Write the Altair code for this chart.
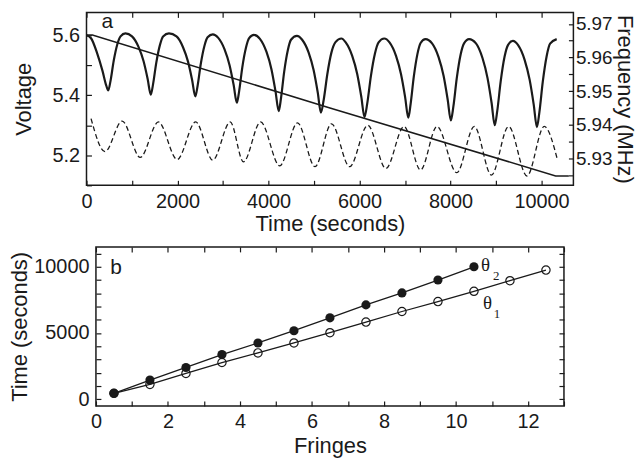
import json
import altair as alt
import pandas as pd

FONT = "Liberation Sans"
SERIF = "Liberation Serif"
INK = "#1a1a1a"

# ---------------- panel a data ----------------
solid_time = [0, 100, 240, 350, 435, 478, 528, 598, 678, 748, 855, 1000, 1143, 1253, 1343, 1413,
              1463, 1533, 1613, 1683, 1812, 1978, 2121, 2231, 2321, 2391,
              2441, 2511, 2591, 2661, 2776, 2891, 3034, 3144, 3234, 3304,
              3354, 3424, 3504, 3574, 3680, 3811, 3954, 4064, 4154, 4224,
              4274, 4344, 4424, 4494, 4624, 4739, 4882, 4992, 5082, 5152,
              5212, 5292, 5382, 5472, 5602, 5696, 5839, 5949, 6039, 6109,
              6169, 6249, 6339, 6419, 6543, 6659, 6802, 6912, 7002, 7072,
              7122, 7192, 7272, 7342, 7450, 7594, 7737, 7847, 7937, 8007,
              8062, 8137, 8222, 8297, 8407, 8559, 8702, 8812, 8902, 8972,
              9027, 9102, 9187, 9262, 9370, 9485, 9628, 9738, 9828, 9898,
              9953, 10028, 10113, 10188, 10333]
solid_volt = [5.600, 5.590, 5.537, 5.482, 5.432, 5.416, 5.448, 5.515, 5.570, 5.596, 5.606, 5.596, 5.561, 5.514, 5.455, 5.402,
              5.437, 5.508, 5.567, 5.596, 5.606, 5.596, 5.560, 5.512, 5.451, 5.396,
              5.431, 5.504, 5.564, 5.593, 5.603, 5.592, 5.553, 5.500, 5.434, 5.375,
              5.413, 5.493, 5.558, 5.590, 5.601, 5.588, 5.545, 5.487, 5.413, 5.347,
              5.390, 5.478, 5.550, 5.585, 5.598, 5.585, 5.542, 5.483, 5.409, 5.342,
              5.384, 5.470, 5.542, 5.577, 5.589, 5.576, 5.531, 5.471, 5.395, 5.327,
              5.372, 5.463, 5.539, 5.576, 5.589, 5.576, 5.531, 5.470, 5.394, 5.325,
              5.370, 5.461, 5.537, 5.574, 5.587, 5.573, 5.527, 5.465, 5.386, 5.316,
              5.362, 5.457, 5.536, 5.573, 5.587, 5.573, 5.524, 5.458, 5.375, 5.300,
              5.348, 5.446, 5.528, 5.567, 5.581, 5.567, 5.518, 5.452, 5.369, 5.294,
              5.344, 5.446, 5.531, 5.572, 5.587]

dashed_time = [100, 406, 783, 1181, 1580, 1993, 2399, 2775, 3159, 3449, 3826, 4246, 4637, 5022,
               5384, 5783, 6181, 6580, 6978, 7341, 7702, 8137, 8522, 8898, 9276, 9680, 10059, 10348]
dashed_volt = [5.322, 5.212, 5.314, 5.193, 5.311, 5.186, 5.311, 5.184, 5.311, 5.178, 5.311, 5.165, 5.308, 5.162,
               5.305, 5.162, 5.300, 5.156, 5.296, 5.151, 5.296, 5.142, 5.296, 5.134, 5.296, 5.131, 5.296, 5.186]

freq_time = [0, 130, 5350, 10310, 10600]
freq_mhz = [5.9667, 5.9667, 5.9450, 5.9248, 5.9248]

time_ticks = [0, 1000, 2000, 3000, 4000, 5000, 6000, 7000, 8000, 9000, 10000]
time_labels = [0, 2000, 4000, 6000, 8000, 10000]
volt_ticks = [5.1, 5.2, 5.3, 5.4, 5.5, 5.6]
volt_labels = [5.2, 5.4, 5.6]
freq_ticks = [5.925, 5.93, 5.935, 5.94, 5.945, 5.95, 5.955, 5.96, 5.965, 5.97]
freq_labels = [5.93, 5.94, 5.95, 5.96, 5.97]

# ---------------- panel b data ----------------
fringe_1 = [0.5, 1.5, 2.5, 3.5, 4.5, 5.5, 6.5, 7.5, 8.5, 9.5, 10.5, 11.5, 12.5]
time_1 = [450, 1125, 1950, 2775, 3500, 4250, 5025, 5825, 6625, 7375, 8150, 8950, 9750]
fringe_2 = [0.5, 1.5, 2.5, 3.5, 4.5, 5.5, 6.5, 7.5, 8.5, 9.5, 10.5]
time_2 = [450, 1450, 2400, 3375, 4250, 5175, 6150, 7125, 8025, 9000, 10000]

fringe_ticks = [0, 1, 2, 3, 4, 5, 6, 7, 8, 9, 10, 11, 12, 13]
fringe_labels = [0, 2, 4, 6, 8, 10, 12]
tsec_ticks = [0, 1000, 2000, 3000, 4000, 5000, 6000, 7000, 8000, 9000, 10000, 11000]
tsec_labels = [0, 5000, 10000]

theta_fr = [10.82, 10.88]
theta_tm = [9650, 6825]
sub_fr = [11.12, 11.14]
sub_tm = [9020, 6130]
sub_txt = ["2", "1"]


def lab_expr(labels, show_fmt):
    return (f"indexof({json.dumps(labels)}, datum.value) >= 0 "
            f"? format(datum.value, '{show_fmt}') : ''")


def axis(orient, values, labels=None, show_fmt="d", title=None,
         show_labels=True, label_pad=6, title_pad=4, label_size=20):
    kw = dict(orient=orient, values=values, tickCount=len(values), offset=-5, tickSize=5,
              domain=False, grid=False,
              ticks=True, tickColor=INK, tickWidth=1.2, labels=show_labels,
              labelFont=FONT, labelFontSize=label_size, labelColor=INK, labelPadding=label_pad,
              labelFlush=False, labelOverlap=False,
              titleFont=FONT, titleFontSize=22, titleFontWeight="normal", titleColor=INK,
              titlePadding=title_pad, title=title)
    if labels is not None:
        kw["labelExpr"] = lab_expr(labels, show_fmt)
    return alt.Axis(**kw)


t_scale = alt.Scale(domain=[0, 10700], nice=False, zero=False)
v_scale = alt.Scale(domain=[5.1, 5.676], nice=False, zero=False)
f_scale = alt.Scale(domain=[5.922, 5.9734], nice=False, zero=False)

solid_df = pd.DataFrame({"t": solid_time, "v": solid_volt})
dashed_df = pd.DataFrame({"t": dashed_time, "v": dashed_volt})
freq_df = pd.DataFrame({"t": freq_time, "f": freq_mhz})
a_df = pd.DataFrame({"t": [457], "v": [5.625], "txt": ["a"]})

solid = alt.Chart(solid_df).mark_line(interpolate="monotone", color=INK, strokeWidth=2.2).encode(
    x=alt.X("t:Q", scale=t_scale,
            axis=axis("bottom", time_ticks, time_labels, "d", title="Time (seconds)",
                      label_pad=6, title_pad=2)),
    y=alt.Y("v:Q", scale=v_scale,
            axis=axis("left", volt_ticks, volt_labels, ".1f", title="Voltage",
                      label_pad=7, title_pad=17)),
)
dashed = alt.Chart(dashed_df).mark_line(interpolate="monotone", color=INK, strokeWidth=1.3,
                                        strokeDash=[5, 3]).encode(x="t:Q", y="v:Q")
a_text = alt.Chart(a_df).mark_text(font=FONT, fontSize=21, color=INK, align="center",
                                   baseline="alphabetic").encode(x="t:Q", y="v:Q", text="txt:N")

freq = alt.Chart(freq_df).mark_line(color=INK, strokeWidth=1.5).encode(
    x=alt.X("t:Q", scale=t_scale, axis=axis("top", time_ticks, show_labels=False)),
    y=alt.Y("f:Q", scale=f_scale,
            axis=axis("right", freq_ticks, freq_labels, ".2f", title="Frequency (MHz)",
                      label_pad=2, title_pad=0, label_size=19)),
)

top = alt.layer(alt.layer(solid, dashed, a_text), freq).resolve_scale(
    y="independent").resolve_axis(x="independent", y="independent").properties(width=490, height=174)

# ---------------- panel b ----------------
fr_scale = alt.Scale(domain=[0, 13], nice=False, zero=False)
tm_scale = alt.Scale(domain=[-500, 11500], nice=False, zero=False)

df1 = pd.DataFrame({"fr": fringe_1, "tm": time_1})
df2 = pd.DataFrame({"fr": fringe_2, "tm": time_2})
b_df = pd.DataFrame({"fr": [0.56], "tm": [9430], "txt": ["b"]})
theta_df = pd.DataFrame({"fr": theta_fr, "tm": theta_tm, "txt": ["θ", "θ"]})
sub_df = pd.DataFrame({"fr": sub_fr, "tm": sub_tm, "txt": sub_txt})

line2 = alt.Chart(df2).mark_line(color=INK, strokeWidth=1.3).encode(
    x=alt.X("fr:Q", scale=fr_scale,
            axis=axis("bottom", fringe_ticks, fringe_labels, "d", title="Fringes",
                      label_pad=6, title_pad=4)),
    y=alt.Y("tm:Q", scale=tm_scale,
            axis=axis("left", tsec_ticks, tsec_labels, "d", title="Time (seconds)",
                      label_pad=7, title_pad=2)),
)
pts2 = alt.Chart(df2).mark_point(shape="circle", filled=True, size=85, color=INK, opacity=1).encode(
    x="fr:Q", y="tm:Q")
line1 = alt.Chart(df1).mark_line(color=INK, strokeWidth=1.3).encode(x="fr:Q", y="tm:Q")
pts1 = alt.Chart(df1).mark_point(shape="circle", filled=False, size=70, color=INK, strokeWidth=1.2,
                                 opacity=1).encode(x="fr:Q", y="tm:Q")
b_text = alt.Chart(b_df).mark_text(font=FONT, fontSize=21, color=INK, align="center",
                                   baseline="alphabetic").encode(x="fr:Q", y="tm:Q", text="txt:N")

theta_text = alt.Chart(theta_df).mark_text(font=SERIF, fontSize=19, color=INK, align="center",
                                           baseline="alphabetic").encode(
    x=alt.X("fr:Q", scale=fr_scale, axis=axis("top", fringe_ticks, show_labels=False)),
    y=alt.Y("tm:Q", scale=tm_scale, axis=axis("right", tsec_ticks, show_labels=False)),
    text="txt:N")
sub_text = alt.Chart(sub_df).mark_text(font=SERIF, fontSize=13, color=INK, align="center",
                                       baseline="alphabetic").encode(x="fr:Q", y="tm:Q", text="txt:N")

bottom = alt.layer(alt.layer(line2, pts2, line1, pts1, b_text), alt.layer(theta_text, sub_text)).resolve_axis(
    x="independent", y="independent").properties(width=471, height=160)

chart = alt.vconcat(top, bottom, spacing=62, center=True, bounds="flush").configure_view(
    stroke=INK, strokeWidth=1.5).properties(padding={"left": 0, "top": 0, "right": 0, "bottom": 0})

chart.save("out.html", embed_options={"renderer": "svg", "actions": False})
